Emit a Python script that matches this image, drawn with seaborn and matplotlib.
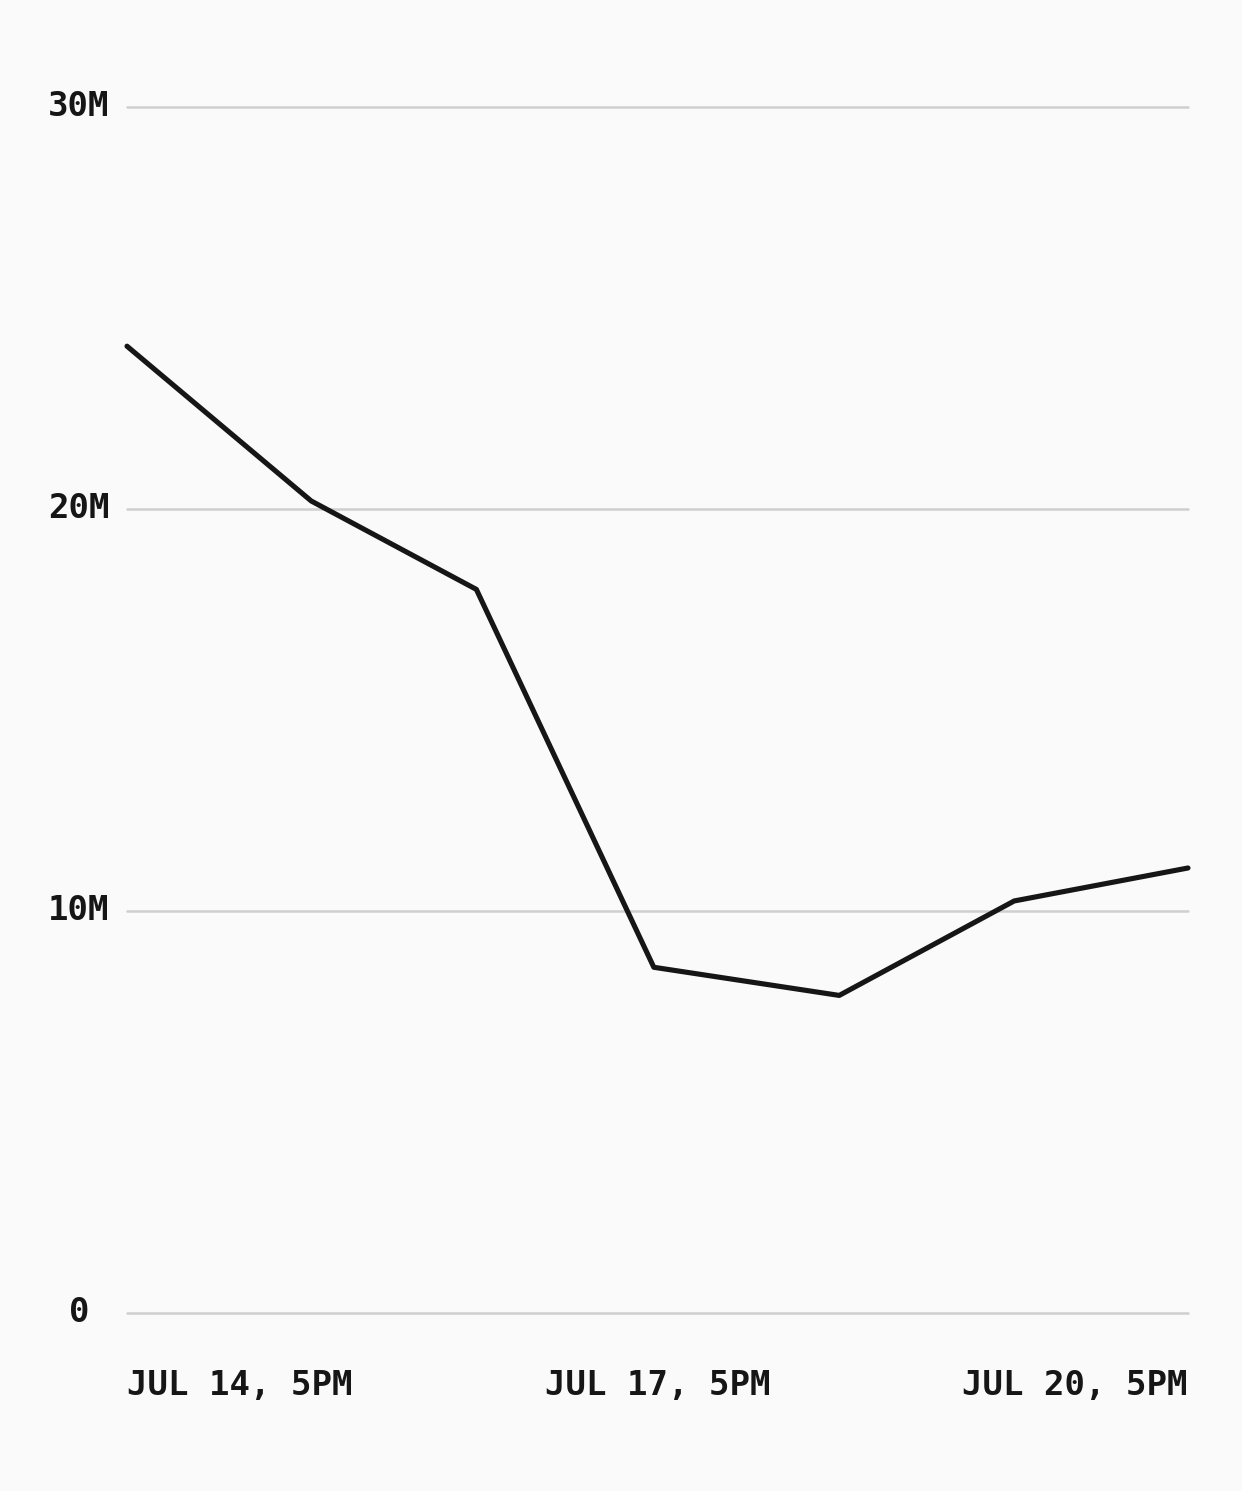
import matplotlib
matplotlib.use("Agg")
import matplotlib.pyplot as plt
import matplotlib.transforms as mtransforms
import seaborn as sns
import pandas as pd

# Data
timestamps = ["2024-07-14 17:00", "2024-07-15 18:00", "2024-07-16 16:25",
              "2024-07-17 16:30", "2024-07-18 17:40", "2024-07-19 17:25",
              "2024-07-20 17:00"]
values = [24.05e6, 20.2e6, 18.0e6, 8.6e6, 7.9e6, 10.25e6, 11.07e6]
y_ticks = [0, 10e6, 20e6, 30e6]
y_labels = ["0", "10M", "20M", "30M"]
x_ticks = ["2024-07-14 17:00", "2024-07-17 17:00", "2024-07-20 17:00"]
x_labels = ["JUL 14, 5PM", "JUL 17, 5PM", "JUL 20, 5PM"]

df = pd.DataFrame({"time": pd.to_datetime(timestamps), "value": values})

sns.set_theme(style="white")
plt.rcParams["font.family"] = ["DejaVu Sans Mono", "DejaVu Sans"]

BG = "#fafafa"
W, H = 1242, 1491
fig = plt.figure(figsize=(W / 100, H / 100), dpi=100, facecolor=BG)
left, right, top, bottom = 127, 1188, 107, 1313
ax = fig.add_axes([left / W, 1 - bottom / H, (right - left) / W, (bottom - top) / H])
ax.set_facecolor(BG)

for y in y_ticks:
    ax.axhline(y, color="#cfcfcf", lw=1.8, zorder=1, clip_on=False)

sns.lineplot(data=df, x="time", y="value", ax=ax, color="#161616", lw=3.7,
             zorder=3, clip_on=False)

ax.set_ylim(0, 30e6)
ax.set_xlim(pd.Timestamp(x_ticks[0]), pd.Timestamp(x_ticks[-1]))
ax.set_xlabel("")
ax.set_ylabel("")
for s in ax.spines.values():
    s.set_visible(False)

ax.set_yticks(y_ticks)
ax.set_yticklabels(y_labels)
ax.set_xticks(pd.to_datetime(x_ticks))
ax.set_xticklabels(x_labels)
ax.tick_params(axis="both", length=0, labelsize=24.5, colors="#161616")
ax.tick_params(axis="y", pad=34.5)
ax.tick_params(axis="x", pad=40)
shift_up = mtransforms.ScaledTranslation(0, 4 / 100, fig.dpi_scale_trans)
for lab in ax.get_yticklabels():
    lab.set_fontweight("bold")
    lab.set_horizontalalignment("center")
    lab.set_transform(lab.get_transform() + shift_up)
xl = ax.get_xticklabels()
for lab, ha in zip(xl, ["left", "center", "right"]):
    lab.set_fontweight("bold")
    lab.set_horizontalalignment(ha)

fig.savefig("out.png", dpi=100, facecolor=BG)
